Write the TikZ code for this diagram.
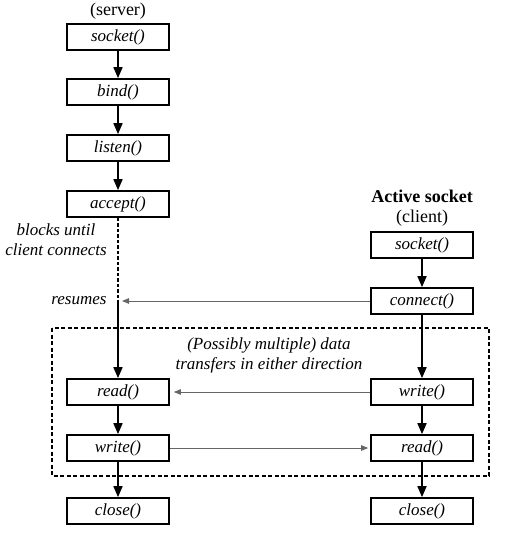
\documentclass[tikz,border=0pt]{standalone}
\usepackage{fontspec}
\setmainfont{Liberation Serif}
\usetikzlibrary{arrows.meta}
\begin{document}
\begin{tikzpicture}[x=1pt,y=-1pt,
  fn/.style={draw,line width=1.7pt,minimum width=102pt,minimum height=26pt,inner sep=0pt,font=\fontsize{17}{19}\selectfont\itshape},
  flow/.style={line width=1.7pt,-{Triangle[length=11pt,width=9pt]}},
  msg/.style={line width=0.9pt,draw=black!60,fill=black!60,-{Triangle[length=7pt,width=5.5pt]}},
  lbl/.style={font=\fontsize{17}{20}\selectfont\itshape},
  hdr/.style={font=\fontsize{18}{20}\selectfont}]
\useasboundingbox (0,0) rectangle (504,534);
% dashed region
\draw[line width=1.3pt,dash pattern=on 4pt off 2.5pt] (52,328) rectangle (489,476);
% server
\node[hdr] (srv) at (118,11) {(server)};
\node[fn] (ssock) at (118,37) {socket()};
\node[fn] (sbind) at (118,92) {bind()};
\node[fn] (slisten) at (118,148) {listen()};
\node[fn] (saccept) at (118,204) {accept()};
\node[fn] (sread) at (118,392) {read()};
\node[fn] (swrite) at (118,448) {write()};
\node[fn] (sclose) at (118,511) {close()};
% client
\node[font=\fontsize{18}{20}\selectfont\bfseries] (act) at (422,196) {Active socket};
\node[hdr] (cli) at (422,218) {(client)};
\node[fn] (csock) at (422,245) {socket()};
\node[fn] (cconn) at (422,301) {connect()};
\node[fn] (cwrite) at (422,392) {write()};
\node[fn] (cread) at (422,448) {read()};
\node[fn] (cclose) at (422,511) {close()};
% labels
\node[lbl,align=center] (blocks) at (56,240) {blocks until\\client connects};
\node[lbl,anchor=east] (resumes) at (110,301) {resumes};
\node[lbl,align=center] (poss) at (269,355) {(Possibly multiple) data\\transfers in either direction};
\coordinate (res) at (118,301);
% server flow
\draw[flow] (ssock) -- (sbind);
\draw[flow] (sbind) -- (slisten);
\draw[flow] (slisten) -- (saccept);
\draw[line width=1.4pt,dash pattern=on 3.5pt off 2pt] (saccept) -- (res);
\draw[flow] (res) -- (sread);
\draw[flow] (sread) -- (swrite);
\draw[flow] (swrite) -- (sclose);
% client flow
\draw[flow] (csock) -- (cconn);
\draw[flow] (cconn) -- (cwrite);
\draw[flow] (cwrite) -- (cread);
\draw[flow] (cread) -- (cclose);
% messages
\draw[msg] (cconn.west) -- ([xshift=4pt]res);
\draw[msg] (cwrite.west) -- ([xshift=4pt]sread.east);
\draw[msg] (swrite.east) -- ([xshift=-2pt]cread.west);
\end{tikzpicture}
\end{document}
